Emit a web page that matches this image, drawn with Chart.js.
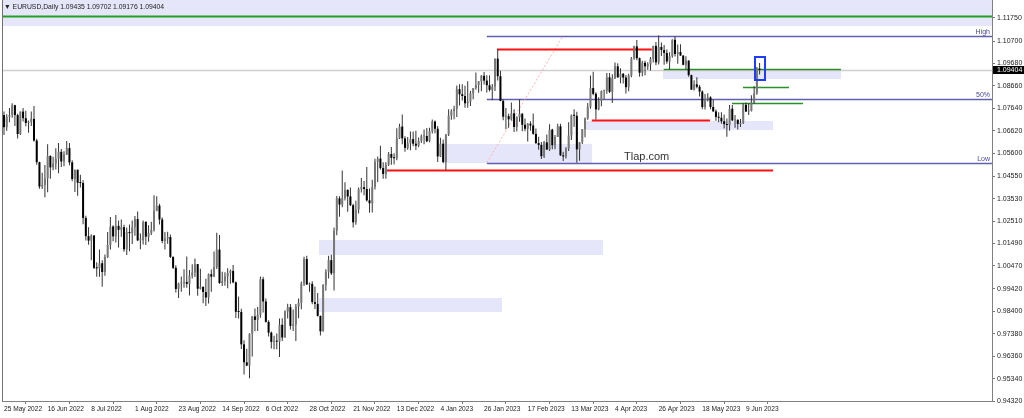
<!DOCTYPE html>
<html>
<head>
<meta charset="utf-8">
<script src="https://cdn.jsdelivr.net/npm/chart.js@4.4.0/dist/chart.umd.min.js"></script>
<style>
  html, body { margin: 0; padding: 0; background: #fff; }
  canvas { display: block; }
</style>
</head>
<body>
<canvas id="fxChart" width="1024" height="418"></canvas>
<script>
// EURUSD daily, 25 May 2022 .. 16 Jun 2023 (one entry per bar)
const dateLabels = ['25 May 2022', '16 Jun 2022', '8 Jul 2022', '1 Aug 2022', '23 Aug 2022', '14 Sep 2022',
  '6 Oct 2022', '28 Oct 2022', '21 Nov 2022', '13 Dec 2022', '4 Jan 2023', '26 Jan 2023', '17 Feb 2023',
  '13 Mar 2023', '4 Apr 2023', '26 Apr 2023', '18 May 2023', '9 Jun 2023'];
const barsPerLabel = 16;

const opens = [
  1.0733,1.0678,1.0725,
  1.0733,1.0778,1.0733,1.0647,1.0749, 1.0719,1.0697,1.0703,1.0716,1.0617, 1.0519,1.0408,1.0415,1.0446,1.0547,
  1.0495,1.0512,1.0535,1.0566,1.0522, 1.0554,1.0583,1.0518,1.0442,1.0484, 1.0425,1.0424,1.0265,1.0182,1.0162,
  1.0185,1.0038,1.0036,1.0059,1.0019, 1.0087,1.0142,1.0226,1.0181,1.0229, 1.0211,1.0223,1.0122,1.0201,1.0196,
  1.0223,1.0260,1.0163,1.0164,1.0247, 1.0180,1.0196,1.0211,1.0298,1.0321, 1.0258,1.0160,1.0171,1.0178,1.0088,
  1.0038,0.9942,0.9967,0.9970,0.9974, 0.9965,1.0003,1.0017,1.0055,0.9943, 0.9952,0.9928,0.9903,1.0009,0.9998,
  1.0041,1.0121,0.9969,0.9977,0.9999, 1.0015,1.0024,0.9972,0.9838,0.9837, 0.9690,0.9608,0.9593,0.9738,0.9817,
  0.9801,0.9824,0.9986,0.9885,0.9792, 0.9743,0.9701,0.9706,0.9702,0.9779, 0.9721,0.9839,0.9859,0.9774,0.9780,
  0.9862,0.9879,0.9966,1.0078,0.9962, 0.9965,0.9882,0.9874,0.9819,0.9749, 0.9961,1.0021,1.0073,1.0013,1.0207,
  1.0354,1.0326,1.0355,1.0393,1.0363, 1.0323,1.0245,1.0303,1.0396,1.0405, 1.0397,1.0345,1.0332,1.0406,1.0521,
  1.0535,1.0492,1.0465,1.0507,1.0556, 1.0539,1.0537,1.0628,1.0681,1.0627, 1.0584,1.0605,1.0624,1.0603,1.0594,
  1.0616,1.0637,1.0638,1.0614,1.0660, 1.0704,1.0671,1.0545,1.0603,1.0520, 1.0644,1.0731,1.0751,1.0762,1.0851,
  1.0828,1.0820,1.0787,1.0795,1.0832, 1.0856,1.0871,1.0887,1.0912,1.0890, 1.0869,1.0848,1.0863,1.0990,1.0910,
  1.0798,1.0726,1.0728,1.0714,1.0741, 1.0679,1.0723,1.0739,1.0689,1.0671, 1.0694,1.0686,1.0648,1.0606,1.0597,
  1.0546,1.0609,1.0576,1.0667,1.0596, 1.0634,1.0682,1.0550,1.0545,1.0581, 1.0640,1.0732,1.0730,1.0577,1.0610,
  1.0669,1.0718,1.0771,1.0856,1.0830, 1.0759,1.0799,1.0843,1.0844,1.0905, 1.0839,1.0901,1.0955,1.0905,1.0921,
  1.0904,1.0860,1.0913,1.0990,1.1046, 1.0992,1.0926,1.0971,1.0955,1.0964, 1.0989,1.1048,1.0973,1.1043,1.1029,
  1.1016,1.0977,1.1001,1.1076,1.1011, 1.1020,1.1004,1.0962,1.0981,1.0915, 1.0849,1.0873,1.0862,1.0840,1.0770,
  1.0805,1.0814,1.0770,1.0750,1.0725, 1.0721,1.0705,1.0692,1.0688,1.0762, 1.0709,1.0712,1.0693,1.0697,1.0780,
  1.0749,1.0752,1.0791,1.0832,1.0943
];
const highs = [
  1.0749,1.0737,1.0765,
  1.0787,1.0780,1.0739,1.0750,1.0765, 1.0753,1.0709,1.0749,1.0774,1.0625, 1.0521,1.0471,1.0506,1.0601,1.0550,
  1.0544,1.0582,1.0606,1.0579,1.0569, 1.0615,1.0606,1.0528,1.0486,1.0486, 1.0462,1.0437,1.0275,1.0223,1.0191,
  1.0188,1.0063,1.0122,1.0073,1.0099, 1.0201,1.0269,1.0232,1.0278,1.0254, 1.0258,1.0234,1.0222,1.0235,1.0254,
  1.0274,1.0294,1.0194,1.0254,1.0250, 1.0232,1.0248,1.0368,1.0364,1.0330, 1.0267,1.0201,1.0202,1.0190,1.0090,
  1.0050,0.9970,0.9999,1.0032,1.0090, 1.0028,1.0054,1.0080,1.0056,1.0034, 0.9952,0.9988,1.0012,1.0030,1.0112,
  1.0198,1.0187,1.0020,1.0018,1.0036, 1.0030,1.0051,0.9976,0.9907,0.9852, 0.9709,0.9670,0.9740,0.9818,0.9853,
  0.9860,0.9999,0.9998,0.9898,0.9800, 0.9748,0.9729,0.9739,0.9808,0.9809, 0.9845,0.9875,0.9873,0.9848,0.9873,
  0.9899,0.9976,1.0089,1.0093,0.9971, 0.9977,0.9953,0.9923,0.9821,0.9963, 1.0032,1.0093,1.0097,1.0222,1.0365,
  1.0364,1.0481,1.0427,1.0395,1.0404, 1.0330,1.0343,1.0404,1.0447,1.0433, 1.0497,1.0399,1.0439,1.0534,1.0545,
  1.0594,1.0519,1.0519,1.0565,1.0588, 1.0559,1.0673,1.0694,1.0736,1.0637, 1.0633,1.0658,1.0658,1.0662,1.0631,
  1.0645,1.0668,1.0674,1.0676,1.0713, 1.0709,1.0683,1.0630,1.0622,1.0647, 1.0760,1.0760,1.0776,1.0868,1.0874,
  1.0874,1.0867,1.0887,1.0843,1.0856, 1.0927,1.0887,1.0916,1.0929,1.0914, 1.0914,1.0875,1.0991,1.1033,1.0935,
  1.0804,1.0765,1.0739,1.0790,1.0760, 1.0728,1.0804,1.0743,1.0718,1.0697, 1.0705,1.0740,1.0672,1.0634,1.0611,
  1.0615,1.0645,1.0691,1.0671,1.0642, 1.0694,1.0694,1.0566,1.0587,1.0700, 1.0736,1.0760,1.0748,1.0611,1.0670,
  1.0722,1.0788,1.0913,1.0930,1.0837, 1.0814,1.0845,1.0848,1.0925,1.0925, 1.0919,1.0973,1.0969,1.0946,1.0925,
  1.0916,1.0921,1.0998,1.1049,1.1075, 1.0995,1.0980,1.0980,1.0974,1.0997, 1.1049,1.1066,1.1095,1.1064,1.1052,
  1.1032,1.1019,1.1078,1.1092,1.1054, 1.1055,1.1005,1.1001,1.0983,1.0917, 1.0892,1.0905,1.0870,1.0846,1.0829,
  1.0833,1.0819,1.0803,1.0759,1.0746, 1.0746,1.0736,1.0718,1.0779,1.0779, 1.0734,1.0713,1.0715,1.0787,1.0790,
  1.0787,1.0823,1.0864,1.0952,1.0970
];
const lows = [
  1.0642,1.0662,1.0700,
  1.0721,1.0683,1.0627,1.0643,1.0704, 1.0682,1.0653,1.0683,1.0613,1.0507, 1.0398,1.0397,1.0359,1.0382,1.0444,
  1.0482,1.0486,1.0469,1.0497,1.0500, 1.0551,1.0505,1.0432,1.0383,1.0366, 1.0404,1.0236,1.0162,1.0143,1.0072,
  1.0033,0.9998,0.9998,0.9952,1.0002, 1.0083,1.0122,1.0159,1.0153,1.0131, 1.0180,1.0111,1.0096,1.0113,1.0146,
  1.0184,1.0160,1.0123,1.0144,1.0142, 1.0157,1.0188,1.0203,1.0295,1.0235, 1.0150,1.0122,1.0148,1.0083,1.0033,
  0.9926,0.9901,0.9929,0.9947,0.9947, 0.9912,0.9990,0.9996,0.9911,0.9939, 0.9877,0.9864,0.9876,0.9929,0.9996,
  1.0033,0.9966,0.9955,0.9956,0.9945, 0.9966,0.9968,0.9810,0.9807,0.9669, 0.9553,0.9591,0.9536,0.9635,0.9749,
  0.9751,0.9811,0.9835,0.9789,0.9726, 0.9671,0.9668,0.9667,0.9632,0.9705, 0.9720,0.9808,0.9757,0.9751,0.9705,
  0.9809,0.9849,0.9955,0.9961,0.9929, 0.9872,0.9851,0.9816,0.9730,0.9748, 0.9934,0.9989,1.0005,0.9935,1.0186,
  1.0271,1.0314,1.0344,1.0293,1.0319, 1.0222,1.0234,1.0285,1.0381,1.0368, 1.0340,1.0289,1.0290,1.0394,1.0429,
  1.0485,1.0444,1.0443,1.0502,1.0507, 1.0508,1.0528,1.0624,1.0600,1.0566, 1.0575,1.0573,1.0591,1.0574,1.0587,
  1.0606,1.0601,1.0610,1.0610,1.0649, 1.0650,1.0520,1.0542,1.0514,1.0483, 1.0638,1.0712,1.0714,1.0725,1.0777,
  1.0799,1.0767,1.0766,1.0775,1.0805, 1.0848,1.0835,1.0842,1.0872,1.0836, 1.0840,1.0801,1.0843,1.0890,1.0796,
  1.0710,1.0669,1.0676,1.0708,1.0656, 1.0659,1.0703,1.0660,1.0660,1.0613, 1.0662,1.0644,1.0602,1.0575,1.0533,
  1.0538,1.0575,1.0570,1.0578,1.0578, 1.0633,1.0547,1.0524,1.0536,1.0570, 1.0620,1.0680,1.0516,1.0525,1.0602,
  1.0632,1.0712,1.0762,1.0823,1.0713, 1.0755,1.0773,1.0805,1.0830,1.0834, 1.0788,1.0897,1.0903,1.0878,1.0877,
  1.0831,1.0842,1.0905,1.0985,1.0983, 1.0908,1.0910,1.0914,1.0939,1.0936, 1.0973,1.0960,1.0963,1.1002,1.0962,
  1.0967,1.0941,1.0994,1.1000,1.0967, 1.1003,1.0960,1.0942,1.0908,1.0847, 1.0845,1.0855,1.0818,1.0760,1.0759,
  1.0795,1.0760,1.0748,1.0707,1.0701, 1.0694,1.0672,1.0635,1.0662,1.0706, 1.0676,1.0667,1.0679,1.0693,1.0748,
  1.0733,1.0749,1.0784,1.0826,1.0918
];
const closes = [
  1.0678,1.0725,1.0733,
  1.0778,1.0733,1.0647,1.0749,1.0719, 1.0697,1.0703,1.0716,1.0617,1.0519, 1.0408,1.0415,1.0446,1.0547,1.0495,
  1.0512,1.0535,1.0566,1.0522,1.0554, 1.0583,1.0518,1.0442,1.0484,1.0425, 1.0424,1.0265,1.0182,1.0162,1.0185,
  1.0038,1.0036,1.0059,1.0019,1.0087, 1.0142,1.0226,1.0181,1.0229,1.0211, 1.0223,1.0122,1.0201,1.0196,1.0223,
  1.0260,1.0163,1.0164,1.0247,1.0180, 1.0196,1.0211,1.0298,1.0321,1.0258, 1.0160,1.0171,1.0178,1.0088,1.0038,
  0.9942,0.9967,0.9970,0.9974,0.9965, 1.0003,1.0017,1.0055,0.9943,0.9952, 0.9928,0.9903,1.0009,0.9998,1.0041,
  1.0121,0.9969,0.9977,0.9999,1.0015, 1.0024,0.9972,0.9838,0.9837,0.9690, 0.9608,0.9593,0.9738,0.9817,0.9801,
  0.9824,0.9986,0.9885,0.9792,0.9743, 0.9701,0.9706,0.9702,0.9779,0.9721, 0.9839,0.9859,0.9774,0.9780,0.9862,
  0.9879,0.9966,1.0078,0.9962,0.9965, 0.9882,0.9874,0.9819,0.9749,0.9961, 1.0021,1.0073,1.0013,1.0207,1.0354,
  1.0326,1.0355,1.0393,1.0363,1.0323, 1.0245,1.0303,1.0396,1.0405,1.0397, 1.0345,1.0332,1.0406,1.0521,1.0535,
  1.0492,1.0465,1.0507,1.0556,1.0539, 1.0537,1.0628,1.0681,1.0627,1.0584, 1.0605,1.0624,1.0603,1.0594,1.0616,
  1.0637,1.0638,1.0614,1.0660,1.0704, 1.0671,1.0545,1.0603,1.0520,1.0644, 1.0731,1.0751,1.0762,1.0851,1.0828,
  1.0820,1.0787,1.0795,1.0832,1.0856, 1.0871,1.0887,1.0912,1.0890,1.0869, 1.0848,1.0863,1.0990,1.0910,1.0798,
  1.0726,1.0728,1.0714,1.0741,1.0679, 1.0723,1.0739,1.0689,1.0671,1.0694, 1.0686,1.0648,1.0606,1.0597,1.0546,
  1.0609,1.0576,1.0667,1.0596,1.0634, 1.0682,1.0550,1.0545,1.0581,1.0640, 1.0732,1.0730,1.0577,1.0610,1.0669,
  1.0718,1.0771,1.0856,1.0830,1.0759, 1.0799,1.0843,1.0844,1.0905,1.0839, 1.0901,1.0955,1.0905,1.0921,1.0904,
  1.0860,1.0913,1.0990,1.1046,1.0992, 1.0926,1.0971,1.0955,1.0964,1.0989, 1.1048,1.0973,1.1043,1.1029,1.1016,
  1.0977,1.1001,1.1076,1.1011,1.1020, 1.1004,1.0962,1.0981,1.0915,1.0849, 1.0873,1.0862,1.0840,1.0770,1.0805,
  1.0814,1.0770,1.0750,1.0725,1.0721, 1.0705,1.0692,1.0688,1.0762,1.0709, 1.0712,1.0693,1.0697,1.0780,1.0749,
  1.0752,1.0791,1.0832,1.0944,1.0940
];

const priceTicks = [1.1175, 1.1070, 1.0968, 1.0866, 1.0764, 1.0662, 1.0560, 1.0455, 1.0353,
  1.0251, 1.0149, 1.0047, 0.9942, 0.9840, 0.9738, 0.9636, 0.9534, 0.9432];
const lastPrice = 1.09404;
const headerText = '\u25BC EURUSD,Daily 1.09435 1.09702 1.09176 1.09404';

// objects on the chart: [first bar, last bar, price ...]
const zones = [            // [from bar, to bar, low, high]
  [-1, 363, 1.1139, 1.1257],
  [241.5, 306.8, 1.0896, 1.0943],
  [213.0, 281.9, 1.0665, 1.0708],
  [160.9, 215.5, 1.0517, 1.0602],
  [115.5, 219.6, 1.0096, 1.0165],
  [115.5, 182.5, 0.9837, 0.9901]
];
const redLevels = [[180.7, 237.5, 1.1033], [215.5, 258.8, 1.0713], [140.4, 281.9, 1.0483]];
const greenLevels = [[-1, 363, 1.1185], [241.9, 306.8, 1.0943], [270.9, 287.8, 1.0862], [266.9, 292.9, 1.0787]];
const fibNames = ['High', '50%', 'Low'];
const fibPrices = [1.1095, 1.08055, 1.0516];
const fibFromBar = 177;
const fibTrend = [[177, 1.0516], [205, 1.1095]];
const boxBars = [275.3, 279.0];
const boxPrices = [1.0893, 1.0998];

const FONT = "'Liberation Sans', Arial, sans-serif";

const bodies = opens.map((o, i) => ({ x: i, y: [o, closes[i]] }));
const wicks = lows.map((l, i) => ({ x: i, y: [l, highs[i]] }));
const bodyColors = opens.map((o, i) => closes[i] >= o ? '#777777' : '#000000');

function hline(ctx, x0, x1, y, color, width) {
  ctx.strokeStyle = color;
  ctx.lineWidth = width;
  ctx.beginPath();
  ctx.moveTo(x0, Math.round(y) + 0.5);
  ctx.lineTo(x1, Math.round(y) + 0.5);
  ctx.stroke();
}

const overlay = {
  id: 'overlay',
  beforeDatasetsDraw(chart) {
    const { ctx, chartArea: a, scales: { x, y } } = chart;
    ctx.save();
    ctx.beginPath();
    ctx.rect(a.left, a.top, a.right - a.left, a.bottom - a.top);
    ctx.clip();

    // zones
    ctx.fillStyle = '#e6e6fa';
    zones.forEach(([b0, b1, lo, hi]) => {
      const x0 = Math.round(x.getPixelForValue(b0)), x1 = Math.round(x.getPixelForValue(b1));
      const y0 = Math.round(y.getPixelForValue(hi)), y1 = Math.round(y.getPixelForValue(lo));
      ctx.fillRect(x0, y0, x1 - x0, y1 - y0);
    });

    // bid line
    hline(ctx, a.left, a.right, y.getPixelForValue(lastPrice), '#cfcfcf', 1.5);

    // fibo lines
    const fx = x.getPixelForValue(fibFromBar);
    fibPrices.forEach(p => hline(ctx, fx, a.right, y.getPixelForValue(p), '#6060b0', 1.4));
    ctx.setLineDash([2, 2]);
    ctx.strokeStyle = '#ffb0b0';
    ctx.lineWidth = 1;
    ctx.beginPath();
    ctx.moveTo(x.getPixelForValue(fibTrend[0][0]), y.getPixelForValue(fibTrend[0][1]));
    ctx.lineTo(x.getPixelForValue(fibTrend[1][0]), y.getPixelForValue(fibTrend[1][1]));
    ctx.stroke();
    ctx.setLineDash([]);

    redLevels.forEach(([b0, b1, p]) =>
      hline(ctx, x.getPixelForValue(b0), x.getPixelForValue(b1), y.getPixelForValue(p), '#ff1010', 2));
    greenLevels.forEach(([b0, b1, p], i) =>
      hline(ctx, x.getPixelForValue(b0), x.getPixelForValue(b1), y.getPixelForValue(p), i === 0 ? '#22a022' : '#2a8f2a', i === 0 ? 2 : 1.5));

    ctx.restore();
  },
  afterDatasetsDraw(chart) {
    const { ctx, chartArea: a, scales: { x, y } } = chart;
    ctx.save();

    // blue box around the last bars
    const bx0 = Math.round(x.getPixelForValue(boxBars[0])), bx1 = Math.round(x.getPixelForValue(boxBars[1]));
    const by0 = Math.round(y.getPixelForValue(boxPrices[1])), by1 = Math.round(y.getPixelForValue(boxPrices[0]));
    ctx.strokeStyle = '#1f3cff';
    ctx.lineWidth = 2;
    ctx.strokeRect(bx0, by0, bx1 - bx0, by1 - by0);

    // fibo captions
    ctx.font = '7px ' + FONT;
    ctx.fillStyle = '#4848a0';
    ctx.textAlign = 'right';
    ctx.textBaseline = 'bottom';
    fibPrices.forEach((p, i) => ctx.fillText(fibNames[i], a.right - 2, y.getPixelForValue(p) - 0.5));

    // watermark
    ctx.font = '11px ' + FONT;
    ctx.fillStyle = '#333';
    ctx.textAlign = 'left';
    ctx.textBaseline = 'middle';
    ctx.fillText('Tlap.com', x.getPixelForValue(227.3), y.getPixelForValue(1.0542));

    // header
    ctx.font = '6.8px ' + FONT;
    ctx.fillStyle = '#222';
    ctx.fillText(headerText, 4, 7);

    // left frame
    ctx.strokeStyle = '#707070';
    ctx.lineWidth = 1;
    ctx.beginPath();
    ctx.moveTo(a.left + 0.5, a.top);
    ctx.lineTo(a.left + 0.5, a.bottom);
    ctx.stroke();

    // bid price label on the axis
    const py = Math.round(y.getPixelForValue(lastPrice));
    ctx.fillStyle = '#000';
    ctx.fillRect(a.right + 1, py - 4, 31, 8);
    ctx.fillStyle = '#fff';
    ctx.font = '7px ' + FONT;
    ctx.textBaseline = 'middle';
    ctx.fillText(lastPrice.toFixed(5), a.right + 5, py + 0.5);
    ctx.restore();
  }
};

new Chart(document.getElementById('fxChart'), {
  type: 'bar',
  data: {
    datasets: [
      { data: wicks, backgroundColor: '#333333', barThickness: 1, minBarLength: 1, grouped: false, order: 2, inflateAmount: 0 },
      { data: bodies, backgroundColor: bodyColors, barThickness: 2, minBarLength: 1, grouped: false, order: 1, inflateAmount: 0 }
    ]
  },
  options: {
    responsive: false,
    devicePixelRatio: 1,
    animation: false,
    events: [],
    layout: { padding: { left: 2, top: 0, right: 0, bottom: 0 } },
    plugins: { legend: { display: false }, tooltip: { enabled: false } },
    scales: {
      x: {
        type: 'linear',
        offset: false,
        min: -0.73,
        max: 362.2,
        afterBuildTicks: scale => { scale.ticks = dateLabels.map((_, i) => ({ value: i * barsPerLabel })); },
        afterFit: scale => { scale.height = 17; scale.paddingLeft = 0; scale.paddingRight = 0; },
        grid: { drawOnChartArea: false, drawTicks: true, tickLength: 3, color: '#777' },
        border: { display: true, color: '#808080', width: 1 },
        ticks: {
          autoSkip: false,
          maxRotation: 0,
          align: 'start',
          padding: 1,
          color: '#222',
          font: { family: FONT, size: 6.6 },
          callback: v => dateLabels[Math.round(v / barsPerLabel)]
        }
      },
      y: {
        position: 'right',
        beginAtZero: false,
        min: 0.9432,
        max: 1.12569,
        afterBuildTicks: scale => { scale.ticks = priceTicks.map(v => ({ value: v })); },
        afterFit: scale => { scale.width = 32; scale.paddingTop = 0; scale.paddingBottom = 0; },
        grid: { drawOnChartArea: false, drawTicks: true, tickLength: 3, color: '#777' },
        border: { display: true, color: '#808080', width: 1 },
        ticks: {
          padding: 2,
          color: '#222',
          font: { family: FONT, size: 7 },
          callback: v => v.toFixed(5)
        }
      }
    }
  },
  plugins: [overlay]
});
</script>
</body>
</html>
